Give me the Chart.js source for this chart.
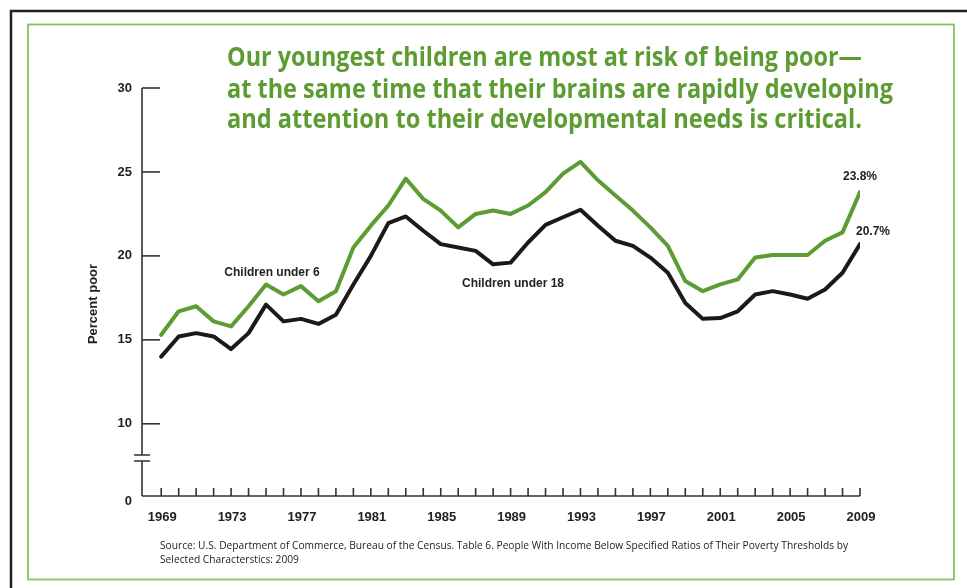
<!DOCTYPE html>
<html>
<head>
<meta charset="utf-8">
<script src="https://cdn.jsdelivr.net/npm/chart.js@4/dist/chart.umd.min.js"></script>
<style>
  html, body { margin: 0; padding: 0; background: #fff; }
  #wrap { position: relative; width: 967px; height: 588px; }
</style>
</head>
<body>
<div id="wrap"><canvas id="chart"></canvas></div>
<script>
const years = [];
for (let y = 1969; y <= 2009; y++) years.push(y);

const under6 = [
  15.3, 16.7, 17.0, 16.1, 15.8, 17.0, 18.3, 17.7, 18.2, 17.3,
  17.9, 20.5, 21.8, 23.0, 24.6, 23.4, 22.7, 21.7, 22.5, 22.7,
  22.5, 23.0, 23.8, 24.9, 25.6, 24.5, 23.6, 22.7, 21.7, 20.6,
  18.5, 17.9, 18.3, 18.6, 19.9, 20.05, 20.05, 20.05, 20.9, 21.4,
  23.8
];
const under18 = [
  14.0, 15.2, 15.4, 15.2, 14.45, 15.4, 17.1, 16.1, 16.25, 15.95,
  16.5, 18.3, 20.0, 21.95, 22.35, 21.5, 20.7, 20.5, 20.3, 19.5,
  19.6, 20.8, 21.85, 22.3, 22.75, 21.8, 20.9, 20.6, 19.9, 19.0,
  17.2, 16.25, 16.3, 16.7, 17.7, 17.9, 17.7, 17.45, 18.0, 19.0,
  20.7
];

const yTicks   = [10, 15, 20, 25, 30];
const xLabels  = [1969, 1973, 1977, 1981, 1985, 1989, 1993, 1997, 2001, 2005, 2009];
const Y_BOTTOM = 5.7;   // broken axis: the "0" sits here

const titleLines = [
  'Our youngest children are most at risk of being poor\u2014',
  'at the same time that their brains are rapidly developing',
  'and attention to their developmental needs is critical.'
];
const sourceLines = [
  'Source: U.S. Department of Commerce, Bureau of the Census. Table 6. People With Income Below Specified Ratios of Their Poverty Thresholds by',
  'Selected Characterstics: 2009'
];

const GREEN = '#5c9c33';
const INK   = '#1a1a1a';

// draw text squeezed horizontally to a target width
function fitText(ctx, text, x, y, width) {
  const w = ctx.measureText(text).width;
  const s = width / w;
  ctx.save();
  ctx.translate(x, y);
  ctx.scale(s, 1);
  ctx.fillText(text, 0, 0);
  ctx.restore();
  return s;
}

const decor = {
  id: 'decor',
  beforeDraw(chart) {
    const ctx = chart.ctx;
    ctx.save();
    ctx.fillStyle = '#fff';
    ctx.fillRect(0, 0, chart.width, chart.height);
    // outer black frame
    ctx.strokeStyle = '#222';
    ctx.lineWidth = 2.5;
    ctx.beginPath();
    ctx.moveTo(11, chart.height);
    ctx.lineTo(11, 11);
    ctx.lineTo(chart.width, 11);
    ctx.stroke();
    // green frame
    ctx.strokeStyle = '#86c463';
    ctx.lineWidth = 1.8;
    ctx.strokeRect(28, 24.5, 926, 555);
    ctx.restore();
  },
  afterDraw(chart) {
    const ctx = chart.ctx;
    const x = chart.scales.x, y = chart.scales.y;
    const left = x.left, bottom = y.bottom;
    ctx.save();
    ctx.strokeStyle = '#333';
    ctx.lineWidth = 1.6;

    // y axis with break
    const b1 = 455, b2 = 461;
    ctx.beginPath();
    ctx.moveTo(left, y.getPixelForValue(30));
    ctx.lineTo(left, b1);
    ctx.moveTo(left, b2);
    ctx.lineTo(left, bottom);
    ctx.moveTo(left - 8, b1); ctx.lineTo(left + 8, b1);
    ctx.moveTo(left - 8, b2); ctx.lineTo(left + 8, b2);
    ctx.stroke();

    // y ticks (inward) and labels
    ctx.font = 'bold 13px "Liberation Sans", Arial, sans-serif';
    ctx.fillStyle = '#222';
    ctx.textAlign = 'right';
    ctx.textBaseline = 'middle';
    yTicks.forEach(v => {
      const py = y.getPixelForValue(v);
      ctx.beginPath();
      ctx.moveTo(left, py);
      ctx.lineTo(left + 18, py);
      ctx.stroke();
      ctx.fillText(String(v), left - 10, py);
    });
    ctx.fillText('0', left - 10, bottom + 5);

    // x axis
    ctx.beginPath();
    ctx.moveTo(left, bottom);
    ctx.lineTo(x.getPixelForValue(2009), bottom);
    years.forEach(yr => {
      const px = x.getPixelForValue(yr);
      ctx.moveTo(px, bottom);
      ctx.lineTo(px, bottom - 8);
    });
    ctx.stroke();

    ctx.textAlign = 'center';
    ctx.font = 'bold 13px "Liberation Sans", Arial, sans-serif';
    xLabels.forEach(yr => {
      ctx.fillText(String(yr), x.getPixelForValue(yr) + 1, 517);
    });

    // y title
    ctx.save();
    ctx.translate(93, 304);
    ctx.rotate(-Math.PI / 2);
    ctx.font = 'bold 13px "Liberation Sans", Arial, sans-serif';
    ctx.fillText('Percent poor', 0, 0);
    ctx.restore();

    // series labels
    ctx.font = 'bold 12px "Liberation Sans", Arial, sans-serif';
    ctx.fillStyle = '#222';
    ctx.fillText('Children under 6', 272, 273);
    ctx.fillText('Children under 18', 513, 284);
    ctx.fillText('23.8%', x.getPixelForValue(2009), 177);
    ctx.fillText('20.7%', x.getPixelForValue(2009) + 13, 232);

    // headline
    ctx.fillStyle = GREEN;
    ctx.textAlign = 'left';
    ctx.textBaseline = 'alphabetic';
    ctx.font = 'bold 27px "Open Sans", sans-serif';
    const widths = [635, 666, 635];
    const bases = [66, 98, 128];
    titleLines.forEach((t, i) => fitText(ctx, t, 227, bases[i], widths[i]));

    // source
    ctx.fillStyle = '#222';
    ctx.font = '10px "Open Sans", sans-serif';
    const s = fitText(ctx, sourceLines[0], 160, 549, 688);
    ctx.save();
    ctx.translate(160, 563);
    ctx.scale(s, 1);
    ctx.fillText(sourceLines[1], 0, 0);
    ctx.restore();

    ctx.restore();
  }
};

new Chart(document.getElementById('chart'), {
  type: 'line',
  data: {
    datasets: [
      {
        label: 'Children under 6',
        data: years.map((yr, i) => ({ x: yr, y: under6[i] })),
        borderColor: GREEN,
        borderWidth: 4,
        pointRadius: 0,
        tension: 0,
        borderJoinStyle: 'round',
        borderCapStyle: 'round'
      },
      {
        label: 'Children under 18',
        data: years.map((yr, i) => ({ x: yr, y: under18[i] })),
        borderColor: INK,
        borderWidth: 4,
        pointRadius: 0,
        tension: 0,
        borderJoinStyle: 'round',
        borderCapStyle: 'round'
      }
    ]
  },
  options: {
    responsive: true,
    maintainAspectRatio: false,
    animation: false,
    layout: { padding: { left: 142, right: 107, top: 88, bottom: 92 } },
    scales: {
      x: { type: 'linear', min: 1967.9, max: 2009, display: false },
      y: { min: Y_BOTTOM, max: 30, display: false }
    },
    plugins: {
      legend: { display: false },
      tooltip: { enabled: false }
    }
  },
  plugins: [decor]
});
</script>
</body>
</html>
